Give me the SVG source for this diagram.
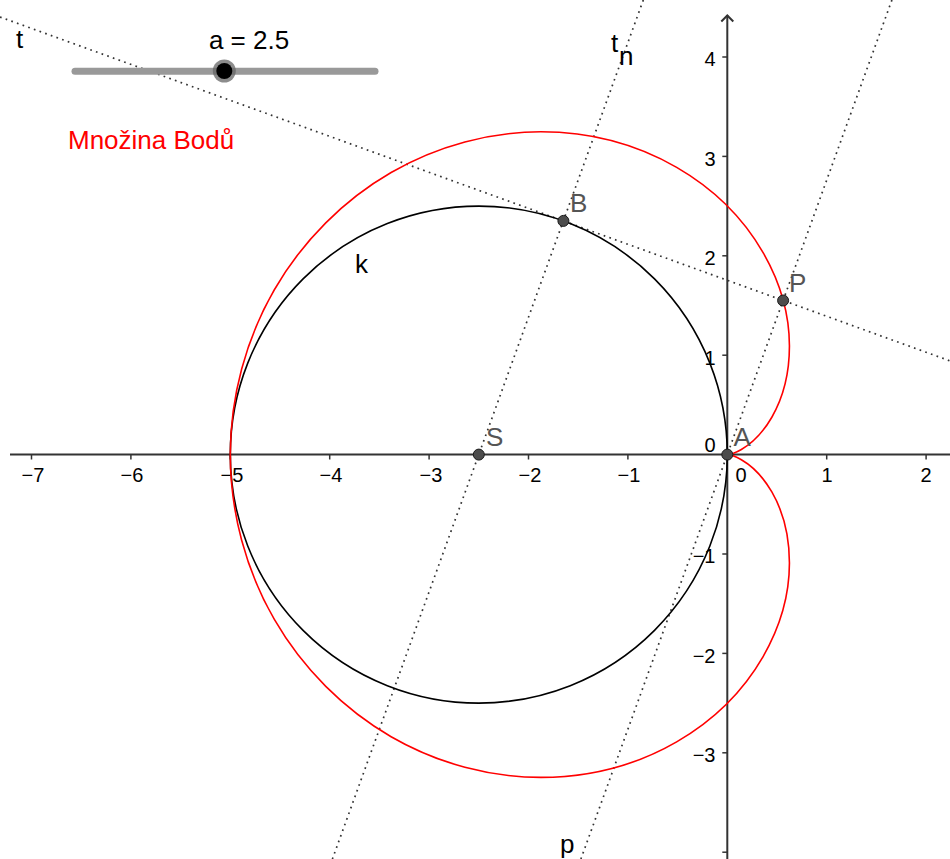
<svg xmlns="http://www.w3.org/2000/svg" width="950" height="859" viewBox="0 0 950 859">
<style>
.axis{stroke:#333;stroke-width:2;fill:none}
.tick{stroke:#333;stroke-width:1.5}
.ax{font-family:"Liberation Sans",Arial,sans-serif;font-size:20px;fill:#000}
.xl{text-anchor:middle}
.yl{text-anchor:end}
.dot{stroke:#333;stroke-width:1.7;stroke-dasharray:1.7 4.3;fill:none}
.lbl{font-family:"Liberation Sans",Arial,sans-serif;font-size:26px;fill:#000}
.plbl{font-family:"Liberation Sans",Arial,sans-serif;font-size:26px;fill:#555}
.pt{fill:#4d4d4d;stroke:#1a1a1a;stroke-width:1}
</style>
<rect width="950" height="859" fill="#fff"/>
<g id="axes">
<line class="axis" x1="10" y1="454.6" x2="950" y2="454.6"/>
<line class="axis" x1="727.3" y1="15" x2="727.3" y2="859"/>
<polyline class="axis" points="721.3,21.5 727.3,15.5 733.3,21.5" stroke-width="1.8"/>
<g class="tick">
<line x1="31.5" y1="454.6" x2="31.5" y2="459.5"/>
<line x1="130.9" y1="454.6" x2="130.9" y2="459.5"/>
<line x1="230.3" y1="454.6" x2="230.3" y2="459.5"/>
<line x1="329.7" y1="454.6" x2="329.7" y2="459.5"/>
<line x1="429.1" y1="454.6" x2="429.1" y2="459.5"/>
<line x1="528.5" y1="454.6" x2="528.5" y2="459.5"/>
<line x1="627.9" y1="454.6" x2="627.9" y2="459.5"/>
<line x1="826.7" y1="454.6" x2="826.7" y2="459.5"/>
<line x1="926.1" y1="454.6" x2="926.1" y2="459.5"/>
<line x1="722.3" y1="57" x2="727.3" y2="57"/>
<line x1="722.3" y1="156.4" x2="727.3" y2="156.4"/>
<line x1="722.3" y1="255.8" x2="727.3" y2="255.8"/>
<line x1="722.3" y1="355.2" x2="727.3" y2="355.2"/>
<line x1="722.3" y1="554" x2="727.3" y2="554"/>
<line x1="722.3" y1="653.4" x2="727.3" y2="653.4"/>
<line x1="722.3" y1="752.8" x2="727.3" y2="752.8"/>
<line x1="722.3" y1="852.2" x2="727.3" y2="852.2"/>
</g>
<g class="ax xl">
<text x="33" y="482">−7</text>
<text x="132" y="482">−6</text>
<text x="232" y="482">−5</text>
<text x="331" y="482">−4</text>
<text x="431" y="482">−3</text>
<text x="530" y="482">−2</text>
<text x="629" y="482">−1</text>
<text x="741" y="482">0</text>
<text x="827" y="482">1</text>
<text x="926" y="482">2</text>
</g>
<g class="ax yl">
<text x="715.5" y="66">4</text>
<text x="715.5" y="165.5">3</text>
<text x="715.5" y="265">2</text>
<text x="715.5" y="364.5">1</text>
<text x="715.5" y="451.5">0</text>
<text x="715.5" y="563">−1</text>
<text x="715.5" y="662.5">−2</text>
<text x="715.5" y="762">−3</text>
</g>
</g>
<g id="connectors">
<line id="t" class="dot" x1="0" y1="17" x2="950" y2="360.9"/>
<line id="tn" class="dot" x1="643.3" y1="0" x2="332.4" y2="859"/>
<line id="p" class="dot" x1="891.9" y1="0" x2="580.9" y2="859"/>
</g>
<g id="k">
<circle cx="478.8" cy="454.6" r="248.5" fill="none" stroke="#000" stroke-width="1.6"/>
<text class="lbl" x="355" y="273">k</text>
</g>
<g id="locus">
<path fill="none" stroke="#f00" stroke-width="1.6" d="M727.3,454.6 C727.3,454.6 732.68,454.49 741.38,449.47 C750.08,444.45 761.95,434.36 771.84,417.23 C781.73,400.10 789.43,375.01 789.43,346.10 C789.43,317.19 781.55,284.56 762.96,252.37 C744.38,220.18 715.02,189.53 676.66,167.38 C638.30,145.23 591.01,131.79 540.93,131.79 C490.85,131.79 438.17,145.33 391.11,172.50 C344.05,199.67 302.82,240.42 274.35,289.74 C245.88,339.06 230.3,396.77 230.3,454.6 C230.3,512.43 245.88,570.14 274.35,619.46 C302.82,668.78 344.05,709.53 391.11,736.70 C438.17,763.87 490.85,777.41 540.93,777.41 C591.01,777.41 638.30,763.97 676.66,741.82 C715.02,719.67 744.38,689.02 762.96,656.83 C781.55,624.64 789.43,592.01 789.43,563.10 C789.43,534.19 781.73,509.10 771.84,491.97 C761.95,474.84 750.08,464.75 741.38,459.73 C732.68,454.71 727.3,454.6 727.3,454.6"/>
</g>
<g id="slider">
<line x1="75" y1="71.3" x2="375" y2="71.3" stroke="#999" stroke-width="7" stroke-linecap="round"/>
<circle cx="224.3" cy="71" r="11.5" fill="#666" fill-opacity="0.75"/>
<circle cx="224.3" cy="71" r="8" fill="#000"/>
<text class="lbl" x="249" y="49" text-anchor="middle">a = 2.5</text>
</g>
<g id="labels">
<text class="lbl" x="16" y="48">t</text>
<text class="lbl" x="611" y="52">t</text>
<text class="lbl" x="619" y="65" font-size="19">n</text>
<text class="lbl" x="560" y="853">p</text>
<text x="68" y="148.5" font-family="'Liberation Sans',Arial,sans-serif" font-size="26" fill="#f00">Množina Bodů</text>
</g>
<g id="S"><circle class="pt" cx="478.8" cy="454.6" r="5.5"/><text class="plbl" x="486" y="446">S</text></g>
<g id="A"><circle class="pt" cx="727.3" cy="454.6" r="5.5"/><text class="plbl" x="733.5" y="445.5">A</text></g>
<g id="B"><circle class="pt" cx="563.4" cy="220.9" r="5.5"/><text class="plbl" x="570" y="211.5">B</text></g>
<g id="P"><circle class="pt" cx="783.1" cy="300.5" r="5.5"/><text class="plbl" x="789" y="292">P</text></g>
</svg>
